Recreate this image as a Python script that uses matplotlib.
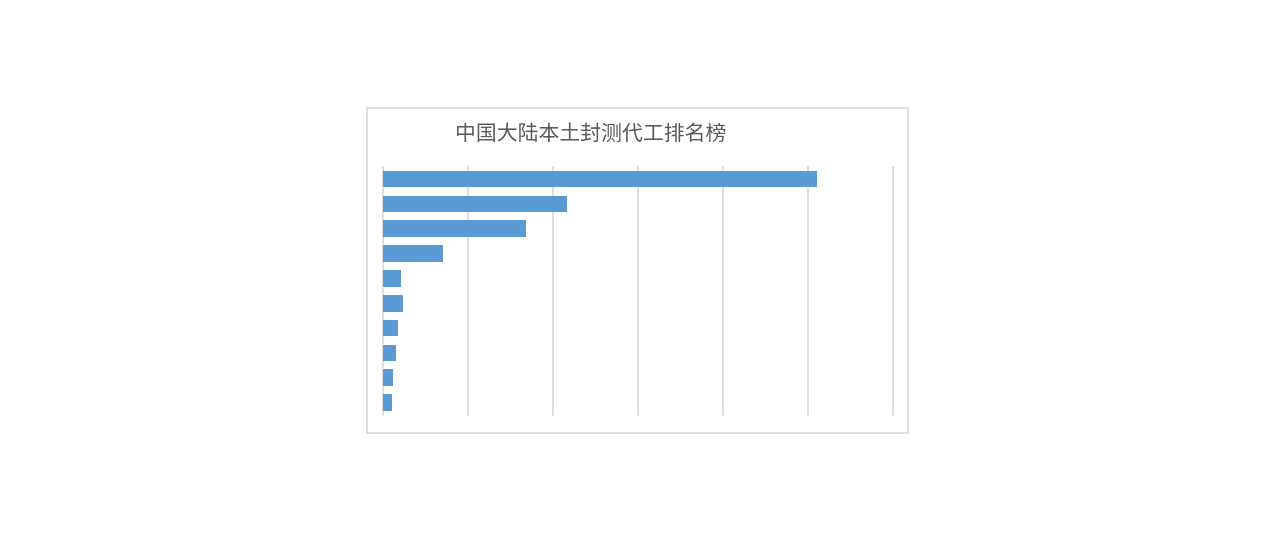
import matplotlib
matplotlib.use("Agg")
import matplotlib.pyplot as plt
from matplotlib.patches import Rectangle

plt.rcParams['font.family'] = ['Noto Sans CJK SC', 'DejaVu Sans']

ranks = list(range(1, 11))
values = [5.11, 2.16, 1.68, 0.70, 0.21, 0.23, 0.18, 0.15, 0.12, 0.11]
grid_ticks = [0, 1, 2, 3, 4, 5, 6]
title = "中国大陆本土封测代工排名榜"

fig = plt.figure(figsize=(12.76, 5.43), dpi=100)
ax = fig.add_axes([0.3002, 0.2357, 0.3994, 0.4573])

ax.barh(ranks, values, height=0.67, color="#5B9BD5", zorder=3)
ax.set_ylim(10.5, 0.5)
ax.set_xlim(grid_ticks[0], grid_ticks[-1])
ax.set_xticks(grid_ticks)
ax.set_yticks([])
ax.grid(axis="x", color="#D9D9D9", linewidth=1.2)
for gl in ax.get_xgridlines():
    gl.set_clip_on(False)
ax.tick_params(axis="x", length=0, labelbottom=False)
for s in ax.spines.values():
    s.set_visible(False)

# chart frame like the Excel chart area
fig.patches.append(Rectangle((367 / 1276, 1 - 433 / 543), 541 / 1276, 325 / 543,
                             transform=fig.transFigure, fill=False,
                             edgecolor="#D9D9D9", linewidth=1.2))

fig.text(591 / 1276, 1 - 134 / 543, title, ha="center", va="center",
         fontsize=15, color="#595959", fontweight="light")

fig.savefig("out.png", dpi=100)
